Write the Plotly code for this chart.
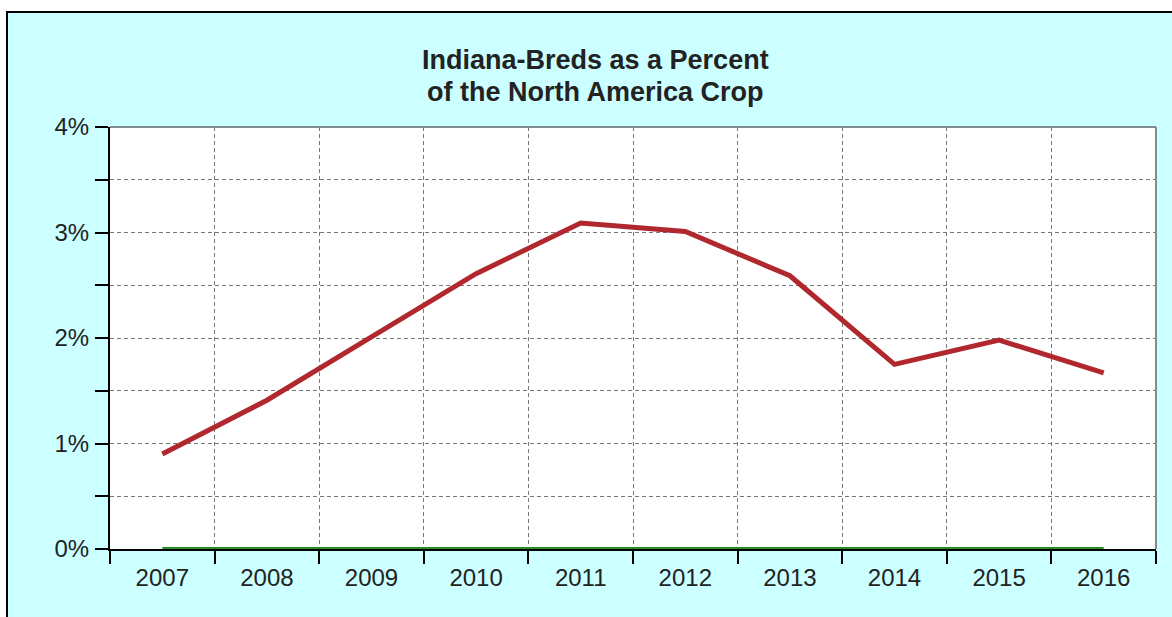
import plotly.graph_objects as go

years = ["2007", "2008", "2009", "2010", "2011", "2012", "2013", "2014", "2015", "2016"]
pct_indiana = [0.90, 1.41, 2.01, 2.61, 3.09, 3.01, 2.59, 1.75, 1.98, 1.67]
pct_baseline = [0, 0, 0, 0, 0, 0, 0, 0, 0, 0]
y_tickvals = [0, 0.5, 1, 1.5, 2, 2.5, 3, 3.5, 4]
y_ticktext = ["0%", "", "1%", "", "2%", "", "3%", "", "4%"]
title_lines = ["Indiana-Breds as a Percent", "of the North America Crop"]

W, H = 1172, 617
L, R, T, B = 110, 16, 127, 68
PW, PH = W - L - R, H - T - B

def px(xp):
    return (xp - L) / PW

def py(yp):
    return (H - B - yp) / PH

fig = go.Figure()
fig.add_trace(go.Scatter(x=years, y=pct_baseline, mode="lines",
                         line=dict(color="rgb(40,140,40)", width=4),
                         hoverinfo="skip", showlegend=False))
fig.add_trace(go.Scatter(x=years, y=pct_indiana, mode="lines",
                         line=dict(color="rgb(176,40,46)", width=5),
                         showlegend=False))

font = "Liberation Sans, Arial, sans-serif"
annotations = []
for text, yc in zip(title_lines, [60, 92]):
    annotations.append(dict(text="<b>" + text + "</b>", xref="paper", yref="paper",
                            x=px(595), y=py(yc), xanchor="center", yanchor="middle",
                            showarrow=False,
                            font=dict(family=font, size=27, color="#222222")))

fig.update_layout(
    width=W, height=H,
    margin=dict(l=L, r=R, t=T, b=B, pad=0),
    paper_bgcolor="rgb(204,255,255)",
    plot_bgcolor="white",
    font=dict(family=font, size=24, color="#222222"),
    annotations=annotations,
    xaxis=dict(type="category", range=[-0.5, 9.5], tickson="boundaries",
               ticks="outside", ticklen=13, tickwidth=2, tickcolor="black",
               showline=True, linecolor="black", linewidth=2,
               showgrid=True, gridcolor="rgb(120,120,120)", gridwidth=1, griddash="4px,3px",
               tickfont=dict(size=24, color="#222222"), ticklabelstandoff=6, fixedrange=True),
    yaxis=dict(range=[0, 4], tickmode="array", tickvals=y_tickvals, ticktext=y_ticktext,
               ticks="outside", ticklen=13, tickwidth=2, tickcolor="black",
               showline=True, linecolor="black", linewidth=2, zeroline=False,
               showgrid=True, gridcolor="rgb(120,120,120)", gridwidth=1, griddash="4px,3px",
               tickfont=dict(size=24, color="#222222"), ticklabelstandoff=1, fixedrange=True),
    shapes=[
        dict(type="line", xref="paper", yref="paper", x0=0, x1=1, y0=1, y1=1,
             line=dict(color="rgb(128,140,145)", width=2), layer="above"),
        dict(type="line", xref="paper", yref="paper", x0=1, x1=1, y0=0, y1=1,
             line=dict(color="rgb(128,140,145)", width=2), layer="above"),
        dict(type="rect", xref="paper", yref="paper", x0=px(-20), x1=px(W + 20),
             y0=py(11), y1=py(-20), fillcolor="white", line=dict(width=0), layer="above"),
        dict(type="rect", xref="paper", yref="paper", x0=px(-20), x1=px(6),
             y0=py(H + 20), y1=py(-20), fillcolor="white", line=dict(width=0), layer="above"),
        dict(type="line", xref="paper", yref="paper", x0=px(6), x1=px(W + 20),
             y0=py(12), y1=py(12), line=dict(color="black", width=2), layer="above"),
        dict(type="line", xref="paper", yref="paper", x0=px(7), x1=px(7),
             y0=py(11), y1=py(H + 20), line=dict(color="black", width=2), layer="above"),
    ],
)

fig.write_html("out.html", config={"displayModeBar": False},
               post_script="document.body.style.margin='0';document.body.style.overflow='hidden';")
